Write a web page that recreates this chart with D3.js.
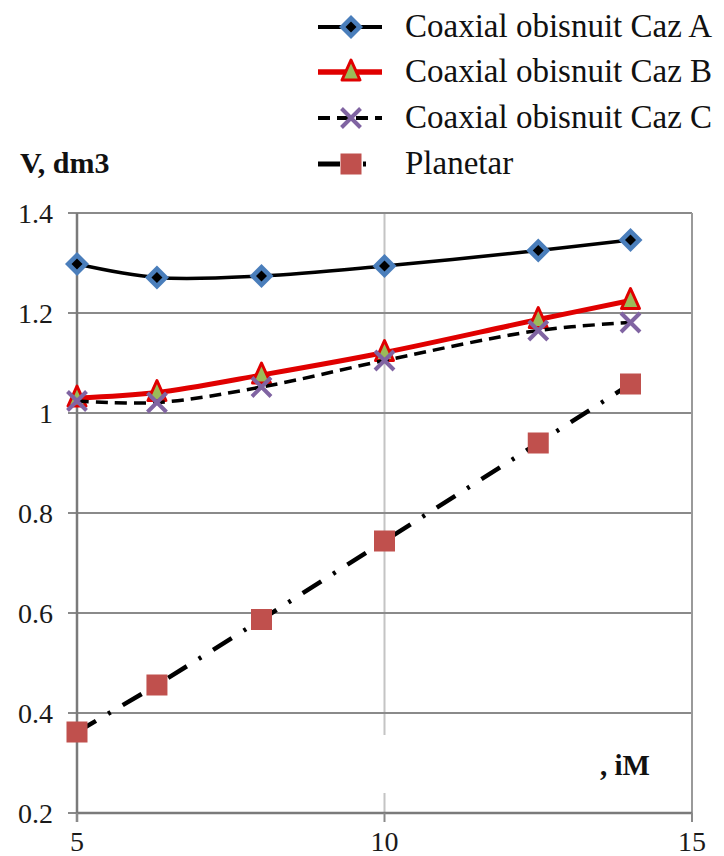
<!DOCTYPE html>
<html>
<head>
<meta charset="utf-8">
<script src="https://cdn.jsdelivr.net/npm/d3@7"></script>
</head>
<body style="margin:0; background:#fff">
<svg id="s" width="724" height="856" font-family="Liberation Serif" style="font-family: 'Liberation Serif', 'Times New Roman'"></svg>
<script>
// ---------- data ----------
const xValues = [5, 6.3, 8, 10, 12.5, 14];
const cazA = [1.298, 1.271, 1.274, 1.294, 1.325, 1.346];
const cazB = [1.030, 1.041, 1.076, 1.121, 1.187, 1.225];
const cazC = [1.024, 1.021, 1.052, 1.105, 1.165, 1.181];
const planetar = [0.362, 0.456, 0.587, 0.744, 0.940, 1.058];
const seriesNames = ["Coaxial obisnuit Caz A", "Coaxial obisnuit Caz B", "Coaxial obisnuit Caz C", "Planetar"];
const yTicks = [0.2, 0.4, 0.6, 0.8, 1.0, 1.2, 1.4];
const yTickLabels = ["0.2", "0.4", "0.6", "0.8", "1", "1.2", "1.4"];
const xTicks = [5, 10, 15];
const xTickLabels = ["5", "10", "15"];
const yTitle = "V, dm3";
const xTitle = ", iM";

// ---------- layout ----------
const W = 724, H = 856;
const margin = { left: 77, right: 32, top: 213, bottom: 43 };
const svg = d3.select("#s");
const x = d3.scaleLinear().domain([5, 15]).range([margin.left, W - margin.right]);
const y = d3.scaleLinear().domain([0.2, 1.4]).range([H - margin.bottom, margin.top]);
const serif = sel => sel.style("font-family", d => `"Liberation Serif", monospace`);

// vertical grid at 10 (light)
svg.append("g").selectAll("line").data([10]).join("line")
  .attr("x1", d => x(d)).attr("x2", d => x(d))
  .attr("y1", y(1.4)).attr("y2", y(0.2))
  .attr("stroke", "#c4c4c4").attr("stroke-width", 2);

// x-axis title background box (hides gridline behind it)
svg.append("rect").attr("x", 300).attr("y", 735).attr("width", 385).attr("height", 58).attr("fill", "#fff");

// horizontal grid
svg.append("g").selectAll("line").data(yTicks).join("line")
  .attr("x1", x(5) - 9).attr("x2", x(15))
  .attr("y1", d => y(d)).attr("y2", d => y(d))
  .attr("stroke", "#8a8a8a").attr("stroke-width", 2);

// right border
svg.append("line").attr("x1", x(15)).attr("x2", x(15)).attr("y1", y(1.4)).attr("y2", y(0.2) + 9)
  .attr("stroke", "#9a9a9a").attr("stroke-width", 2);

// y axis line
svg.append("line").attr("x1", x(5)).attr("x2", x(5)).attr("y1", y(1.4)).attr("y2", y(0.2) + 9)
  .attr("stroke", "#7a7a7a").attr("stroke-width", 2.5);
// x axis line + ticks
svg.append("line").attr("x1", x(5)).attr("x2", x(15)).attr("y1", y(0.2)).attr("y2", y(0.2))
  .attr("stroke", "#7a7a7a").attr("stroke-width", 2.5);
svg.append("g").selectAll("line").data(xTicks).join("line")
  .attr("x1", d => x(d)).attr("x2", d => x(d))
  .attr("y1", y(0.2)).attr("y2", y(0.2) + 9)
  .attr("stroke", "#8a8a8a").attr("stroke-width", 2);

// tick labels
svg.append("g").selectAll("text").data(yTicks).join("text")
  .attr("x", x(5) - 24).attr("y", d => y(d)).attr("dy", "0.34em")
  .attr("text-anchor", "end").attr("font-size", 28).attr("fill", "#1a1a1a")
  .call(serif)
  .text((d, i) => yTickLabels[i]);
svg.append("g").selectAll("text").data(xTicks).join("text")
  .attr("x", d => x(d)).attr("y", 851)
  .attr("text-anchor", "middle").attr("font-size", 28).attr("fill", "#1a1a1a")
  .call(serif)
  .text((d, i) => xTickLabels[i]);

// axis titles
svg.append("text").attr("x", 20).attr("y", 173).attr("font-weight", "bold")
  .attr("font-size", 30).attr("fill", "#111").call(serif).text(yTitle);
svg.append("text").attr("x", 600).attr("y", 775).attr("font-weight", "bold")
  .attr("font-size", 29).attr("fill", "#111").call(serif).text(xTitle);

// ---------- series ----------
const smooth = d3.line().x(d => x(d[0])).y(d => y(d[1])).curve(d3.curveCatmullRom.alpha(0.5));
const straight = d3.line().x(d => x(d[0])).y(d => y(d[1]));
const zip = vals => xValues.map((v, i) => [v, vals[i]]);

const styles = [
  { vals: cazA, gen: smooth, stroke: "#000", width: 3.5, dash: null, legendDash: null, legendEnd: 382, marker: "diamond" },
  { vals: cazB, gen: smooth, stroke: "#e00000", width: 5, dash: null, legendDash: null, legendEnd: 382, marker: "triangle" },
  { vals: cazC, gen: smooth, stroke: "#000", width: 3.5, dash: "12,7", legendDash: "12,7", legendEnd: 382, marker: "x" },
  { vals: planetar, gen: straight, stroke: "#000", width: 4.5, dash: "22,14,3,14", legendDash: "22,23,3,40", legendEnd: 368, marker: "square" }
];

function drawMarker(g, type, cx, cy) {
  if (type === "diamond") {
    const r = 12, r2 = 5.5;
    g.append("path").attr("d", `M${cx},${cy - r}L${cx + r},${cy}L${cx},${cy + r}L${cx - r},${cy}Z`).attr("fill", "#4a7ebb");
    g.append("path").attr("d", `M${cx},${cy - r2}L${cx + r2},${cy}L${cx},${cy + r2}L${cx - r2},${cy}Z`).attr("fill", "#000");
  } else if (type === "triangle") {
    const s = 9;
    g.append("path").attr("d", `M${cx},${cy - s - 3}L${cx + s},${cy + s - 1}L${cx - s},${cy + s - 1}Z`)
      .attr("fill", "#9bbb59").attr("stroke", "#e00000").attr("stroke-width", 3).attr("stroke-linejoin", "round");
  } else if (type === "x") {
    const s = 9.5;
    g.append("path").attr("d", `M${cx - s},${cy - s}L${cx + s},${cy + s}M${cx - s},${cy + s}L${cx + s},${cy - s}`)
      .attr("stroke", "#8064a2").attr("stroke-width", 4).attr("fill", "none");
  } else if (type === "square") {
    const s = 10.5;
    g.append("rect").attr("x", cx - s).attr("y", cy - s).attr("width", 2 * s).attr("height", 2 * s).attr("fill", "#c0504d");
  }
}

styles.forEach(s => {
  const g = svg.append("g");
  g.append("path").attr("d", s.gen(zip(s.vals))).attr("fill", "none")
    .attr("stroke", s.stroke).attr("stroke-width", s.width)
    .attr("stroke-dasharray", s.dash).attr("stroke-linecap", "butt");
  zip(s.vals).forEach(p => drawMarker(g, s.marker, x(p[0]), y(p[1])));
});

// ---------- legend ----------
const legendRowY = [27, 72, 118, 164];
styles.forEach((s, i) => {
  const g = svg.append("g");
  const ly = legendRowY[i];
  g.append("line").attr("x1", 318).attr("x2", s.legendEnd).attr("y1", ly).attr("y2", ly)
    .attr("stroke", s.stroke).attr("stroke-width", s.width + 0.5)
    .attr("stroke-dasharray", s.legendDash);
  drawMarker(g, s.marker, 351, ly);
  g.append("text").attr("x", 405).attr("y", ly + 10).attr("font-size", 33)
    .attr("fill", "#111").call(serif).text(seriesNames[i]);
});
</script>
</body>
</html>
